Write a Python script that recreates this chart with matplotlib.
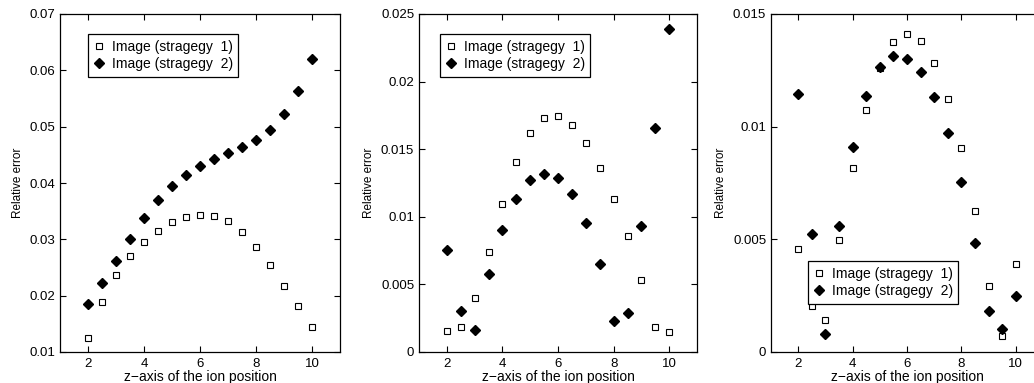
import numpy as np
import matplotlib
matplotlib.use('Agg')
import matplotlib.pyplot as plt

plt.rcParams['font.family'] = ['Liberation Sans', 'DejaVu Sans']

z = [2, 2.5, 3, 3.5, 4, 4.5, 5, 5.5, 6, 6.5, 7, 7.5, 8, 8.5, 9, 9.5, 10]

# left panel
s1_a = [0.0124, 0.0188, 0.0236, 0.0271, 0.0296, 0.0315, 0.0330, 0.0340, 0.0344,
        0.0342, 0.0332, 0.0313, 0.0287, 0.0254, 0.0218, 0.0182, 0.0145]
s2_a = [0.0185, 0.0222, 0.0262, 0.0301, 0.0338, 0.0370, 0.0394, 0.0415, 0.0431,
        0.0442, 0.0453, 0.0464, 0.0476, 0.0494, 0.0522, 0.0564, 0.0621]

# middle panel
s1_b = [0.00158, 0.00185, 0.00401, 0.00737, 0.01095, 0.01405, 0.0162, 0.01731, 0.01743,
        0.01677, 0.01543, 0.01362, 0.0113, 0.00856, 0.00534, 0.00185, 0.00148]
s2_b = [0.00757, 0.00302, 0.00161, 0.00579, 0.0090, 0.01133, 0.01271, 0.0132, 0.01288,
        0.01167, 0.00954, 0.00648, 0.00232, 0.00292, 0.0093, 0.01654, 0.02386]

# right panel
s1_c = [0.00459, 0.00203, 0.00142, 0.00496, 0.00817, 0.01075, 0.01262, 0.01374, 0.01411,
        0.0138, 0.01283, 0.01123, 0.00905, 0.00624, 0.00293, 0.0007, 0.00392]
s2_c = [0.01145, 0.00524, 0.00078, 0.00561, 0.0091, 0.01135, 0.01263, 0.01312, 0.01302,
        0.01243, 0.01133, 0.00972, 0.00756, 0.00484, 0.00182, 0.00102, 0.00247]

labels = ['Image (stragegy  1)', 'Image (stragegy  2)']

W, H = 1034, 383
fig = plt.figure(figsize=(W / 100, H / 100), dpi=100)

panels = [
    # left px, width px, data, ylim, yticks, legend top-left px
    (60, 280, s1_a, s2_a, (0.01, 0.07), [0.01, 0.02, 0.03, 0.04, 0.05, 0.06, 0.07], (88, 34)),
    (419, 278, s1_b, s2_b, (0, 0.025), [0, 0.005, 0.01, 0.015, 0.02, 0.025], (440, 34)),
    (771, 272, s1_c, s2_c, (0, 0.015), [0, 0.005, 0.01, 0.015], (808, 261)),
]

for left, width, s1, s2, ylim, yt, leg in panels:
    ax = fig.add_axes([left / W, (H - 352) / H, width / W, 338 / H])
    ax.plot(z, s1, 's', ms=5, mfc='white', mec='black', mew=0.8, label=labels[0])
    ax.plot(z, s2, 'D', ms=5.3, mfc='black', mec='black', label=labels[1])
    ax.set_xlim(1, 11)
    ax.set_ylim(*ylim)
    ax.set_xticks([2, 4, 6, 8, 10])
    ax.set_yticks(yt)
    ax.set_yticklabels(['%g' % v for v in yt])
    ax.tick_params(direction='in', top=True, right=True, length=4, width=0.8,
                   labelsize=9.5, colors='black')
    ax.tick_params(axis='x', pad=4.5)
    for sp in ax.spines.values():
        sp.set_linewidth(0.9)
    ax.set_xlabel('z\u2212axis of the ion position', fontsize=10, labelpad=0)
    ax.set_ylabel('Relative error', fontsize=8.5, labelpad=4)
    lg = ax.legend(loc='upper left', bbox_to_anchor=(leg[0] / W, 1 - leg[1] / H),
                   bbox_transform=fig.transFigure, borderaxespad=0, fontsize=10,
                   fancybox=False, framealpha=1, edgecolor='black', handlelength=0.8,
                   handletextpad=0.5, borderpad=0.4, labelspacing=0.25)
    lg.get_frame().set_linewidth(0.9)

plt.savefig('out.png', dpi=100)
